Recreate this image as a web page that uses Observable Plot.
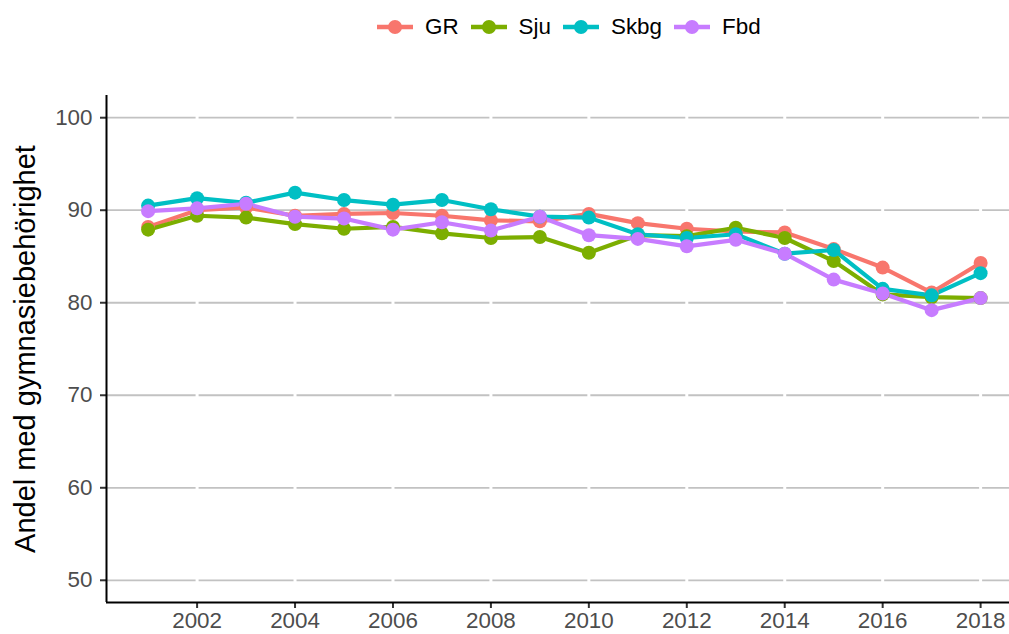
<!DOCTYPE html>
<html>
<head>
<meta charset="utf-8">
<script src="https://cdn.jsdelivr.net/npm/d3@7"></script>
<script src="https://cdn.jsdelivr.net/npm/@observablehq/plot@0.6"></script>
<style>
  html, body { margin: 0; padding: 0; background: #fff; }
  body { width: 1009px; height: 634px; overflow: hidden; font-family: "Liberation Sans", Arial, sans-serif; }
  #legend { height: 50px; display: flex; align-items: center; padding-left: 377px; box-sizing: border-box; padding-top: 3px; }
  .item { display: flex; align-items: center; margin-right: 12px; }
  .item span { font-size: 22.4px; color: #000; margin-left: 12px; }
  #chart svg { display: block; }
</style>
</head>
<body>
<div id="legend"></div>
<div id="chart"></div>
<script>
const years = [2001,2002,2003,2004,2005,2006,2007,2008,2009,2010,2011,2012,2013,2014,2015,2016,2017,2018];
const seriesNames = ["GR", "Sju", "Skbg", "Fbd"];
const seriesColors = ["#F8766D", "#7CAE00", "#00BFC4", "#C77CFF"];
const gr   = [88.2, 90.0, 90.3, 89.4, 89.6, 89.7, 89.4, 88.9, 88.8, 89.6, 88.6, 88.0, 87.7, 87.6, 85.8, 83.8, 81.1, 84.3];
const sju  = [87.9, 89.4, 89.2, 88.5, 88.0, 88.2, 87.5, 87.0, 87.1, 85.4, 87.3, 87.2, 88.1, 87.0, 84.5, 80.9, 80.6, 80.5];
const skbg = [90.5, 91.3, 90.8, 91.9, 91.1, 90.6, 91.1, 90.1, 89.3, 89.2, 87.4, 87.0, 87.4, 85.3, 85.7, 81.5, 80.8, 83.2];
const fbd  = [89.9, 90.2, 90.7, 89.3, 89.1, 87.9, 88.7, 87.8, 89.3, 87.3, 86.9, 86.1, 86.8, 85.3, 82.5, 81.0, 79.2, 80.5];
const yTicks = [50, 60, 70, 80, 90, 100];
const xTicks = [2002, 2004, 2006, 2008, 2010, 2012, 2014, 2016, 2018];
const yTitle = "Andel med gymnasiebehörighet";

const valuesBySeries = [gr, sju, skbg, fbd];
const data = [];
seriesNames.forEach((s, i) => {
  years.forEach((y, j) => data.push({series: s, year: y, value: valuesBySeries[i][j]}));
});

// legend
const legend = document.getElementById("legend");
seriesNames.forEach((s, i) => {
  const item = document.createElement("div");
  item.className = "item";
  item.innerHTML = `<svg width="36" height="20"><line x1="0" x2="36" y1="10" y2="10" stroke="${seriesColors[i]}" stroke-width="4.5"/><circle cx="18" cy="10" r="7" fill="${seriesColors[i]}"/></svg><span>${s}</span>`;
  legend.appendChild(item);
});

const xDomain = [2000.15, 2018.59];
const yDomain = [47.6, 102.4];

const chart = Plot.plot({
  width: 1009,
  height: 584,
  marginTop: 45,
  marginBottom: 32,
  marginLeft: 106,
  marginRight: 0,
  style: {fontFamily: "'Liberation Sans', Arial, sans-serif", background: "#fff"},
  x: {domain: xDomain},
  y: {domain: yDomain},
  color: {domain: seriesNames, range: seriesColors},
  marks: [
    Plot.gridY(yTicks, {stroke: "#c2c2c2", strokeOpacity: 1, strokeWidth: 1.8}),
    Plot.gridX(xTicks, {stroke: "#ffffff", strokeOpacity: 1, strokeWidth: 3}),
    Plot.axisX(xTicks, {tickFormat: "d", tickSize: 6, tickPadding: 4, fontSize: 22.4, fill: "#4d4d4d", stroke: "#333", strokeWidth: 2, label: null}),
    Plot.axisY(yTicks, {tickSize: 6, tickPadding: 8, fontSize: 22.4, fill: "#4d4d4d", stroke: "#333", strokeWidth: 2, label: null}),
    Plot.ruleY([yDomain[0]], {stroke: "#000", strokeWidth: 2}),
    Plot.ruleX([xDomain[0]], {stroke: "#000", strokeWidth: 2}),
    Plot.line(data, {x: "year", y: "value", z: "series", stroke: "series", strokeWidth: 4.2}),
    Plot.dot(data, {x: "year", y: "value", fill: "series", r: 7}),
    Plot.text([yTitle], {frameAnchor: "left", textAnchor: "middle", rotate: -90, dx: -81, fontSize: 29, fill: "#000"})
  ]
});
document.getElementById("chart").appendChild(chart);
</script>
</body>
</html>
